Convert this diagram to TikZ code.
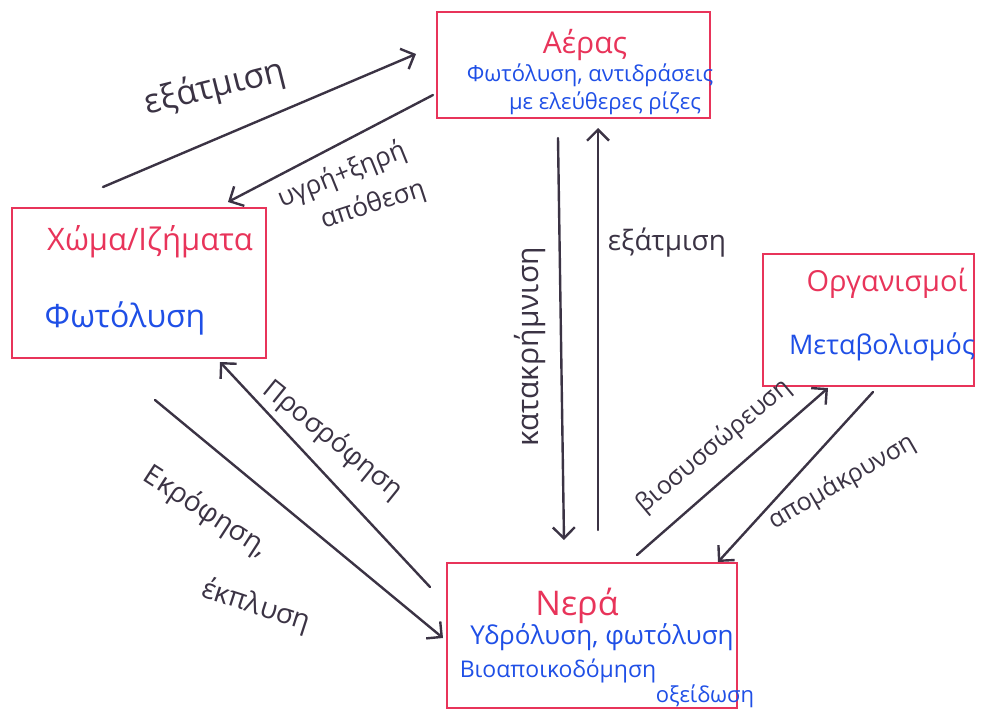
\documentclass[tikz,border=0pt]{standalone}
\usepackage{fontspec}
\setmainfont{Open Sans}
\usetikzlibrary{arrows.meta}
\definecolor{boxred}{HTML}{E8345A}
\definecolor{inkblue}{HTML}{1F4FE6}
\definecolor{inkgray}{HTML}{3B3344}
\newcommand{\fs}[1]{\fontsize{#1}{#1}\selectfont}
\begin{document}
\begin{tikzpicture}[x=1pt,y=-1pt,
  box/.style={draw=boxred,line width=2.6pt,rectangle,inner sep=0pt},
  ttl/.style={text=boxred,inner sep=0pt},
  body/.style={text=inkblue,inner sep=0pt},
  lbl/.style={text=inkgray,inner sep=0pt},
  flow/.style={draw=inkgray,line width=2.4pt,line cap=round,-{Straight Barb[length=11pt,width=22pt,line width=2.4pt]}}]
\useasboundingbox (0,0) rectangle (988,720);
% boxes
\node[box,minimum width=273pt,minimum height=106pt] (air) at (573.5,65) {};
\node[box,minimum width=254pt,minimum height=150pt] (soil) at (139,283) {};
\node[box,minimum width=211pt,minimum height=132pt] (org) at (868.5,320) {};
\node[box,minimum width=290pt,minimum height=145pt] (water) at (592,635.5) {};
% box texts
\node[ttl] (airT) at (585,45) {\fs{30}Αέρας};
\node[body] (airB1) at (590,75) {\fs{22}Φωτόλυση, αντιδράσεις};
\node[body] (airB2) at (605,103) {\fs{22}με ελεύθερες ρίζες};
\node[ttl] (soilT) at (150,242) {\fs{31}Χώμα/Ιζήματα};
\node[body] (soilB) at (125,318) {\fs{32}Φωτόλυση};
\node[ttl] (orgT) at (887,283) {\fs{29}Οργανισμοί};
\node[body] (orgB) at (882,347) {\fs{27}Μεταβολισμός};
\node[ttl] (watT) at (577,606) {\fs{34}Νερά};
\node[body] (watB1) at (602,637) {\fs{26}Υδρόλυση, φωτόλυση};
\node[body] (watB2) at (558,671) {\fs{23}Βιοαποικοδόμηση};
\node[body] (watB3) at (705,696) {\fs{22}οξείδωση};
% connector ends
\coordinate (e1s) at (103,187); \coordinate (e1e) at (416,54);
\coordinate (d1s) at (433,95);  \coordinate (d1e) at (228,202);
\coordinate (k1s) at (558,138); \coordinate (k1e) at (564,540);
\coordinate (e2s) at (598,530); \coordinate (e2e) at (598,128);
\coordinate (p1s) at (430,587); \coordinate (p1e) at (220,362);
\coordinate (x1s) at (155,400); \coordinate (x1e) at (443,638);
\coordinate (b1s) at (637,555); \coordinate (b1e) at (828,388);
\coordinate (a1s) at (873,392); \coordinate (a1e) at (718,562);
% connectors
\draw[flow] (e1s) -- (e1e);
\draw[flow] (d1s) -- (d1e);
\draw[flow] (k1s) -- (k1e);
\draw[flow] (e2s) -- (e2e);
\draw[flow] (p1s) -- (p1e);
\draw[flow] (x1s) -- (x1e);
\draw[flow] (b1s) -- (b1e);
\draw[flow] (a1s) -- (a1e);
% labels
\node[lbl,rotate=14] (l1) at (215,88) {\fs{34}εξάτμιση};
\node[lbl,rotate=22] (l2a) at (342,175) {\fs{26}υγρή+ξηρή};
\node[lbl,rotate=18] (l2b) at (373,205) {\fs{26}απόθεση};
\node[lbl,rotate=90] (l3) at (530,347) {\fs{30}κατακρήμνιση};
\node[lbl] (l4) at (667,243) {\fs{28}εξάτμιση};
\node[lbl,rotate=-39] (l5) at (333,440) {\fs{27}Προσρόφηση};
\node[lbl,rotate=-33] (l6a) at (206,512) {\fs{28}Εκρόφηση,};
\node[lbl,rotate=-18] (l6b) at (256,606) {\fs{28}έκπλυση};
\node[lbl,rotate=40] (l7) at (714,446) {\fs{25}βιοσυσσώρευση};
\node[lbl,rotate=30] (l8) at (842,482) {\fs{25}απομάκρυνση};
\end{tikzpicture}
\end{document}
